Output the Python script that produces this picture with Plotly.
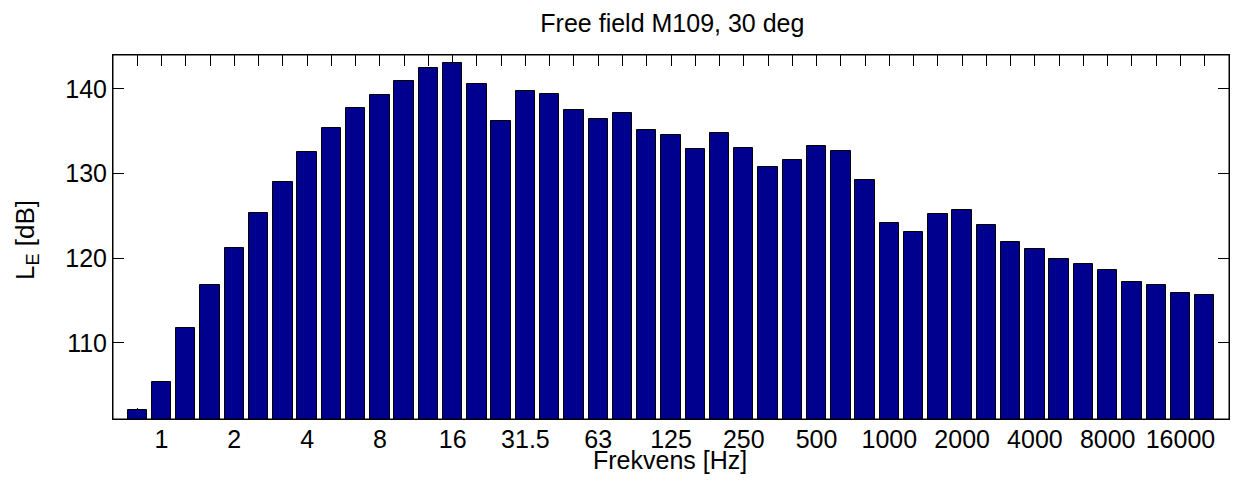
import plotly.graph_objects as go

freqs = ["0.8", "1", "1.25", "1.6", "2", "2.5", "3.15", "4", "5", "6.3", "8", "10",
         "12.5", "16", "20", "25", "31.5", "40", "50", "63", "80", "100", "125", "160",
         "200", "250", "315", "400", "500", "630", "800", "1000", "1250", "1600", "2000",
         "2500", "3150", "4000", "5000", "6300", "8000", "10000", "12500", "16000", "20000"]

levels = [102.05, 105.4, 111.7, 116.85, 121.15, 125.35, 129.05, 132.5, 135.4, 137.7,
          139.25, 140.9, 142.5, 143.0, 140.55, 136.25, 139.8, 139.35, 137.55, 136.4,
          137.15, 135.1, 134.6, 132.9, 134.75, 133.0, 130.8, 131.6, 133.2, 132.65,
          129.2, 124.2, 123.05, 125.25, 125.65, 123.95, 121.95, 121.05, 119.85, 119.35,
          118.6, 117.15, 116.8, 115.85, 115.7]

tick_labels = ["", "1", "", "", "2", "", "", "4", "", "", "8", "", "", "16", "", "",
               "31.5", "", "", "63", "", "", "125", "", "", "250", "", "", "500", "",
               "", "1000", "", "", "2000", "", "", "4000", "", "", "8000", "", "",
               "16000", ""]

y_ticks = [110, 120, 130, 140]

FONT = "Liberation Sans, Arial, Helvetica, sans-serif"

W, H = 1236, 488
ML, MR, MT, MB = 113, 7, 55, 69
PW, PH = W - ML - MR, H - MT - MB

fig = go.Figure()
fig.add_trace(go.Bar(
    x=freqs, y=levels, width=0.8,
    marker=dict(color="rgb(0,0,143)", line=dict(color="black", width=1)),
    showlegend=False,
))

fig.update_layout(
    width=W, height=H,
    margin=dict(l=ML, r=MR, t=MT, b=MB),
    paper_bgcolor="white", plot_bgcolor="white",
    font=dict(family=FONT, size=25, color="black"),
    title=dict(text="Free field M109, 30 deg", x=0.544, xanchor="center",
               y=1 - 23 / H, yanchor="middle", font=dict(size=25, family=FONT)),
    bargap=0,
)

fig.update_xaxes(
    type="category", categoryorder="array", categoryarray=freqs,
    range=[-1, 45],
    tickmode="array", tickvals=freqs, ticktext=tick_labels,
    ticks="inside", ticklen=11, tickwidth=1, tickcolor="black",
    showline=True, linecolor="black", linewidth=1, mirror="allticks",
    showgrid=False, zeroline=False, layer="below traces",
    tickfont=dict(size=25, family=FONT), ticklabelstandoff=-2,
    automargin=False,
)

fig.update_yaxes(
    range=[101, 144],
    tickmode="array", tickvals=y_ticks,
    ticks="inside", ticklen=11, tickwidth=1, tickcolor="black",
    showline=True, linecolor="black", linewidth=1, mirror="allticks",
    showgrid=False, zeroline=False,
    tickfont=dict(size=25, family=FONT),
    automargin=False,
)

fig.add_shape(type="rect", xref="paper", yref="paper", x0=0, y0=0, x1=1, y1=1,
              line=dict(color="black", width=1), layer="above")

# axis titles
fig.add_annotation(text="Frekvens [Hz]", xref="paper", yref="paper",
                   x=(669.5 - ML) / PW, y=(MT + PH - 460) / PH,
                   xanchor="center", yanchor="middle", showarrow=False,
                   font=dict(size=25, family=FONT))
fig.add_annotation(text="L<sub>E</sub> [dB]", xref="paper", yref="paper",
                   x=(26 - ML) / PW, y=(MT + PH - 240) / PH, textangle=-90,
                   xanchor="center", yanchor="middle", showarrow=False,
                   font=dict(size=26, family=FONT))

fig.write_html("out.html")
